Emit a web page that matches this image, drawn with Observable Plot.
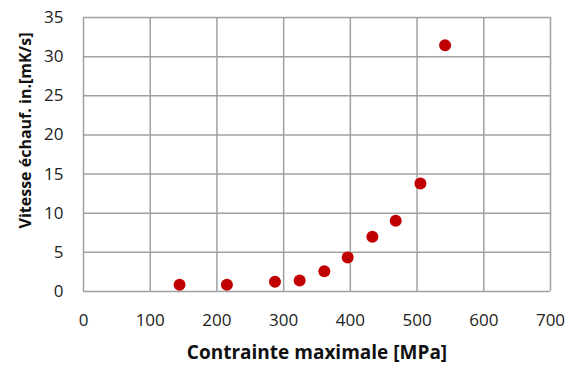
<!DOCTYPE html>
<html><head><meta charset="utf-8">
<script src="https://cdn.jsdelivr.net/npm/d3@7"></script>
<script src="https://cdn.jsdelivr.net/npm/@observablehq/plot@0.6"></script>
<style>
body{margin:0;background:#fff;}
g[aria-label="x-axis label"] text{font-weight:bold;fill:#111;font-size:19px;}
g[aria-label="y-axis label"] text{font-weight:bold;fill:#111;font-size:16px;}
</style></head>
<body><div id="chart"></div>
<script>
const contrainte = [144, 215, 287, 324, 361, 396, 433, 468, 505, 542];
const vitesse = [0.85, 0.85, 1.24, 1.4, 2.6, 4.34, 6.98, 9.03, 13.8, 31.45];
const xTicks = [0, 100, 200, 300, 400, 500, 600, 700];
const yTicks = [0, 5, 10, 15, 20, 25, 30, 35];
const data = contrainte.map((x, i) => ({x, y: vitesse[i]}));

const chart = Plot.plot({
  width: 575, height: 367,
  marginLeft: 83, marginRight: 25, marginTop: 17, marginBottom: 76,
  style: {fontFamily: "Open Sans", fontSize: "17px", color: "#222", background: "#fff"},
  x: {domain: [0, 700], ticks: xTicks},
  y: {domain: [0, 35], ticks: yTicks},
  marks: [
    Plot.ruleX(xTicks, {stroke: "#a0a0a0", strokeWidth: 1.5}),
    Plot.ruleY(yTicks, {stroke: "#a0a0a0", strokeWidth: 1.5}),
    Plot.axisX({ticks: xTicks, tickSize: 0, tickPadding: 22, label: "Contrainte maximale [MPa]", labelAnchor: "center", labelArrow: "none", labelOffset: 67}),
    Plot.axisY({ticks: yTicks, tickSize: 0, tickPadding: 20, label: "Vitesse échauf. in.[mK/s]", labelAnchor: "center", labelArrow: "none", labelOffset: 64}),
    Plot.dot(data, {x: "x", y: "y", r: 6, fill: "#C00000", stroke: "none"})
  ]
});
// shift the y-axis title upward along its rotated baseline
chart.querySelectorAll('g[aria-label="y-axis label"] text').forEach(t => {
  const tr = t.getAttribute("transform") || "";
  t.setAttribute("transform", tr + " translate(24,0)");
});
document.getElementById("chart").appendChild(chart);
</script></body></html>
